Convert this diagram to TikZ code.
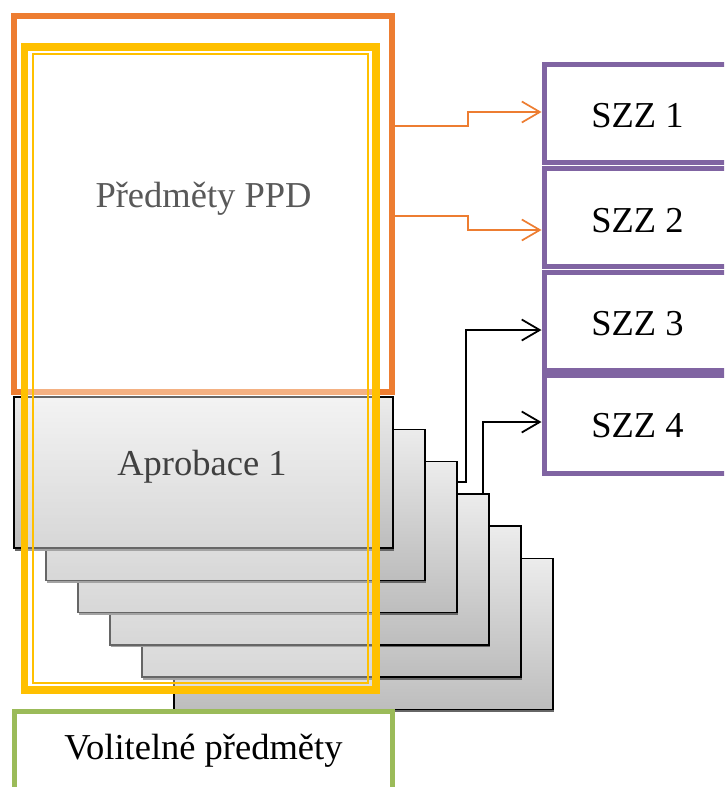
\documentclass[tikz,border=0pt]{standalone}
\usepackage{fontspec}
\setmainfont{Liberation Serif}
\usetikzlibrary{arrows.meta,shadows}
\definecolor{orangeC}{HTML}{ED7D31}
\definecolor{yellowC}{HTML}{FFC000}
\definecolor{purpleC}{HTML}{8064A2}
\definecolor{greenC}{HTML}{9BBB59}
\definecolor{boxtop}{HTML}{ECECEC}
\definecolor{boxbot}{HTML}{BDBDBD}
\tikzset{
  stackbox/.style={draw=black, line width=1.5pt, minimum width=379pt, minimum height=151pt,
    inner sep=0pt, top color=boxtop, bottom color=boxbot,
    drop shadow={shadow xshift=1pt, shadow yshift=-2.5pt, fill=black!60, opacity=1}},
  szzbox/.style={draw=purpleC, line width=5pt, minimum width=187pt, minimum height=98pt,
    inner sep=0pt, font=\fontsize{36.5pt}{40pt}\selectfont, text=black},
  lbl/.style={anchor=base, inner sep=0pt, font=\fontsize{36.5pt}{40pt}\selectfont},
  oarr/.style={draw=orangeC, line width=1.7pt, -{Straight Barb[length=18pt,width=21pt]}},
  barr/.style={draw=black, line width=1.8pt, -{Straight Barb[length=18pt,width=21pt]}},
}
\begin{document}
\begin{tikzpicture}[x=1pt,y=-1pt]
\useasboundingbox (0,0) rectangle (724,787);
\clip (0,0) rectangle (724,787);
% stacked boxes (back to front)
\foreach \k in {5,4,3,2,1,0} {
  \node[stackbox] (ap\k) at ({203.5+32*\k},{472.5+32.3*\k}) {};
}
% orange frame
\node[draw=orangeC, line width=6.5pt, minimum width=378pt, minimum height=376pt, inner sep=0pt] (ppd) at (203,204) {};
% yellow double frame with translucent fill
\node[draw=yellowC, line width=7.5pt, fill=white, fill opacity=0.4, draw opacity=1,
      minimum width=351.5pt, minimum height=643pt, inner sep=0pt] (yel) at (200.25,368.5) {};
\node[draw=yellowC, line width=2pt, minimum width=335pt, minimum height=629pt, inner sep=0pt] (yelin) at (200.5,368.5) {};
% texts
\node[lbl, text=black!65] (tppd) at (203.5,207) {Předměty PPD};
\node[lbl, text=black!75] (tap) at (202,475) {Aprobace 1};
% green box
\node[draw=greenC, line width=5pt, minimum width=378pt, minimum height=89pt, inner sep=0pt] (vol) at (203,756) {};
\node[lbl, text=black] (tvol) at (203.5,759) {Volitelné předměty};
% purple boxes
\node[szzbox] (szz1) at (637.5,113) {};
\node[szzbox] (szz2) at (637.5,217) {};
\node[szzbox] (szz3) at (637.5,321) {};
\node[szzbox] (szz4) at (637.5,424) {};
\node[lbl] (t1) at (637.5,127) {SZZ 1};
\node[lbl] (t2) at (637.5,232) {SZZ 2};
\node[lbl] (t3) at (637.5,335) {SZZ 3};
\node[lbl] (t4) at (637.5,437) {SZZ 4};
% arrows
\draw[oarr] (ppd.east |- 0,126) -- (468,126) -- (468,112) -- (szz1.west |- 0,112);
\draw[oarr] (ppd.east |- 0,216) -- (468,216) -- (468,230) -- (szz2.west |- 0,230);
\draw[barr] (ap2.east |- 0,482) -- (466,482) -- (466,330) -- (szz3.west |- 0,330);
\draw[barr] (ap3.north -| 483,0) -- (483,422) -- (szz4.west |- 0,422);
\end{tikzpicture}
\end{document}
